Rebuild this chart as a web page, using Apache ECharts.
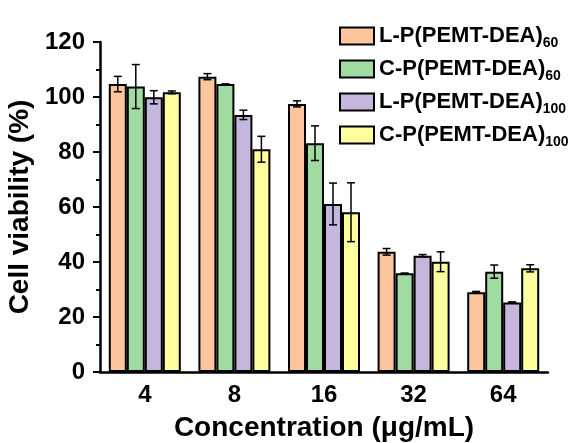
<!DOCTYPE html>
<html>
<head>
<meta charset="utf-8">
<script src="https://cdn.jsdelivr.net/npm/echarts@6/dist/echarts.min.js"></script>
<style>html,body{margin:0;padding:0;background:#fff;}#c{width:571px;height:443px;}</style>
</head>
<body>
<div id="c"></div>
<script>
const categories = ['4', '8', '16', '32', '64'];
const seriesNames = ['L-P(PEMT-DEA)|60', 'C-P(PEMT-DEA)|60', 'L-P(PEMT-DEA)|100', 'C-P(PEMT-DEA)|100'];
const valLP60 = [104.7, 107.4, 97.5, 43.7, 29.0];
const valCP60 = [103.8, 104.7, 83.2, 35.9, 36.5];
const valLP100 = [99.9, 93.5, 61.1, 42.3, 25.3];
const valCP100 = [101.7, 81.0, 58.1, 40.1, 37.7];
const errLP60 = [2.8, 1.1, 1.1, 1.2, 0.3];
const errCP60 = [8.0, 0.0, 6.3, 0.0, 2.4];
const errLP100 = [2.4, 1.7, 7.6, 0.4, 0.2];
const errCP100 = [0.5, 4.7, 10.7, 3.6, 1.3];
const yTicks = [0, 20, 40, 60, 80, 100, 120];

const colors = ['#FCC59B', '#A0DBA2', '#C4B6DC', '#FFFFA0'];
const values = [valLP60, valCP60, valLP100, valCP100];
const errors = [errLP60, errCP60, errLP100, errCP100];
const BW = 18;

const chart = echarts.init(document.getElementById('c'), null, {renderer: 'canvas'});
const series = [];
values.forEach((vals, i) => {
  series.push({
    name: seriesNames[i], type: 'bar', data: vals, barWidth: BW, barGap: '0%',
    itemStyle: {color: colors[i], borderColor: '#000', borderWidth: 2},
    z: 2
  });
});
values.forEach((vals, i) => {
  series.push({
    type: 'custom', z: 5,
    data: vals.map((v, k) => [k, v, errors[i][k]]),
    renderItem: function (params, api) {
      const k = api.value(0), v = api.value(1), e = api.value(2);
      const hi = api.coord([k, v + e]);
      const lo = api.coord([k, v - e]);
      const x = hi[0] + (i - 1.5) * BW;
      const cap = 4;
      const st = {stroke: '#000', lineWidth: 1.5};
      return {type: 'group', children: [
        {type: 'line', shape: {x1: x, y1: hi[1], x2: x, y2: lo[1]}, style: st},
        {type: 'line', shape: {x1: x - cap, y1: hi[1], x2: x + cap, y2: hi[1]}, style: st},
        {type: 'line', shape: {x1: x - cap, y1: lo[1], x2: x + cap, y2: lo[1]}, style: st}
      ]};
    }
  });
});

const ff = 'Liberation Sans, Arial, sans-serif';
chart.setOption({
  animation: false,
  textStyle: {fontFamily: ff},
  grid: {left: 100, right: 23, top: 42, bottom: 71, containLabel: false, outerBoundsMode: 'none'},
  legend: {
    data: seriesNames, orient: 'vertical', left: 339, top: 22, padding: 0,
    icon: 'rect',
    itemWidth: 34, itemHeight: 17, itemGap: 5,
    formatter: function (n) {
      const p = n.split('|');
      return '{m|' + p[0] + '}{s|' + p[1] + '}';
    },
    textStyle: {
      rich: {
        m: {fontSize: 22, fontWeight: 'bold', color: '#000', fontFamily: ff, lineHeight: 24},
        s: {fontSize: 14, fontWeight: 'bold', color: '#000', fontFamily: ff, lineHeight: 14, padding: [14, 0, 0, 0]}
      }
    }
  },
  xAxis: [{
    type: 'category', data: categories,
    name: 'Concentration (μg/mL)', nameLocation: 'middle', nameGap: 42,
    nameTextStyle: {fontSize: 28, fontWeight: 'bold', color: '#000', fontFamily: ff},
    axisLine: {lineStyle: {color: '#000', width: 2.5}},
    axisTick: {alignWithLabel: true, length: 7, lineStyle: {color: '#000', width: 2}},
    axisLabel: {fontSize: 24, fontWeight: 'bold', color: '#000', margin: 11, fontFamily: ff}
  }, {
    type: 'category', data: categories, position: 'bottom',
    axisLine: {show: false},
    axisTick: {length: 4, lineStyle: {color: '#000', width: 2}},
    axisLabel: {show: false}
  }],
  yAxis: {
    type: 'value', min: yTicks[0], max: yTicks[yTicks.length - 1], interval: 20,
    name: 'Cell viability (%)', nameLocation: 'middle', nameGap: 63,
    nameTextStyle: {fontSize: 28, fontWeight: 'bold', color: '#000', fontFamily: ff},
    axisLine: {show: true, lineStyle: {color: '#000', width: 2.5}},
    axisTick: {show: true, length: 7, lineStyle: {color: '#000', width: 2}},
    minorTick: {show: true, splitNumber: 2, length: 4, lineStyle: {color: '#000', width: 2}},
    splitLine: {show: false},
    axisLabel: {fontSize: 24, fontWeight: 'bold', color: '#000', margin: 15, fontFamily: ff}
  },
  series: series
});
</script>
</body>
</html>
